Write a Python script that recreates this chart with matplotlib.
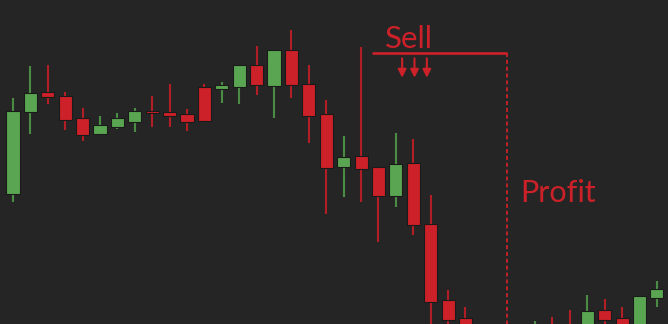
import matplotlib
matplotlib.use("Agg")
import matplotlib.pyplot as plt

# candle prices (arbitrary units), one entry per bar
opens  = [130, 212, 232, 228, 206, 190, 197, 202, 213, 212, 210, 237, 235, 237,
          259, 238, 274, 240, 210, 157, 168, 157, 128, 161, 100, 24, 6, -14,
          -38, -24, -21, -2, -1, -16, 14, 6, -6, 26]
highs  = [226, 258, 259, 232, 216, 208, 211, 216, 228, 240, 215, 240, 242, 259,
          278, 274, 294, 259, 224, 188, 277, 157, 191, 185, 129, 34, 17, -8,
          -18, -15, 3, 7, 14, 29, 25, 17, 28, 43]
lows   = [122, 190, 220, 194, 183, 190, 195, 192, 197, 197, 193, 203, 221, 220,
          229, 206, 226, 181, 110, 127, 122, 82, 117, 89, -16, -11, -26, -45,
          -50, -42, -26, -22, -28, -21, -4, -16, -11, 17]
closes = [213, 231, 227, 204, 189, 199, 206, 213, 211, 208, 202, 203, 239, 259,
          239, 274, 239, 208, 156, 167, 155, 128, 160, 99, 22, 4, -16, -36,
          -25, -34, -4, -16, -21, 13, 4, -11, 28, 35]

BG = '#262526'
UP = '#5aa552'
UP_WICK = '#4a8c43'
DOWN = '#cc2128'
DOWN_WICK = '#b11e25'
EDGE = '#1b1a1b'

fig = plt.figure(figsize=(6.68, 3.24), dpi=100, facecolor=BG)
ax = fig.add_axes([0, 0, 1, 1])
ax.set_facecolor(BG)

xs = list(range(len(opens)))
for i in xs:
    up = closes[i] >= opens[i]
    ax.vlines(i, lows[i], highs[i], color=UP_WICK if up else DOWN_WICK,
              lw=1.5, zorder=1)
    bottom = min(opens[i], closes[i])
    h = max(abs(closes[i] - opens[i]), 1.5)
    ax.bar(i, h, bottom=bottom, width=0.75, color=UP if up else DOWN,
           edgecolor=EDGE, linewidth=0.8, zorder=2)

ax.set_xlim(-0.747, 37.64)
ax.set_ylim(0, 324)
ax.axis('off')

# annotation: sell line, arrows, profit drop
ax.plot([0.557, 0.759], [0.836, 0.836], color=DOWN, lw=1.9,
        transform=ax.transAxes, solid_capstyle='butt', zorder=3)
ax.plot([0.759, 0.759], [0.836, 0.0], color=DOWN, lw=1.3, ls=(0, (2.2, 1.6)),
        transform=ax.transAxes, zorder=3)
for ax_x in [0.602, 0.6205, 0.639]:
    ax.annotate('', xy=(ax_x, 0.760), xytext=(ax_x, 0.82),
                xycoords='axes fraction', textcoords='axes fraction',
                arrowprops=dict(arrowstyle='-|>', color=DOWN, lw=1.5,
                                mutation_scale=12, shrinkA=0, shrinkB=0))

ax.text(0.612, 0.852, 'Sell', color=DOWN, fontsize=22.5, family='Lato',
        ha='center', va='baseline', transform=ax.transAxes)
ax.text(0.835, 0.3765, 'Profit', color=DOWN, fontsize=22, family='Lato',
        ha='center', va='baseline', transform=ax.transAxes)

fig.savefig('out.png', dpi=100, facecolor=BG)
